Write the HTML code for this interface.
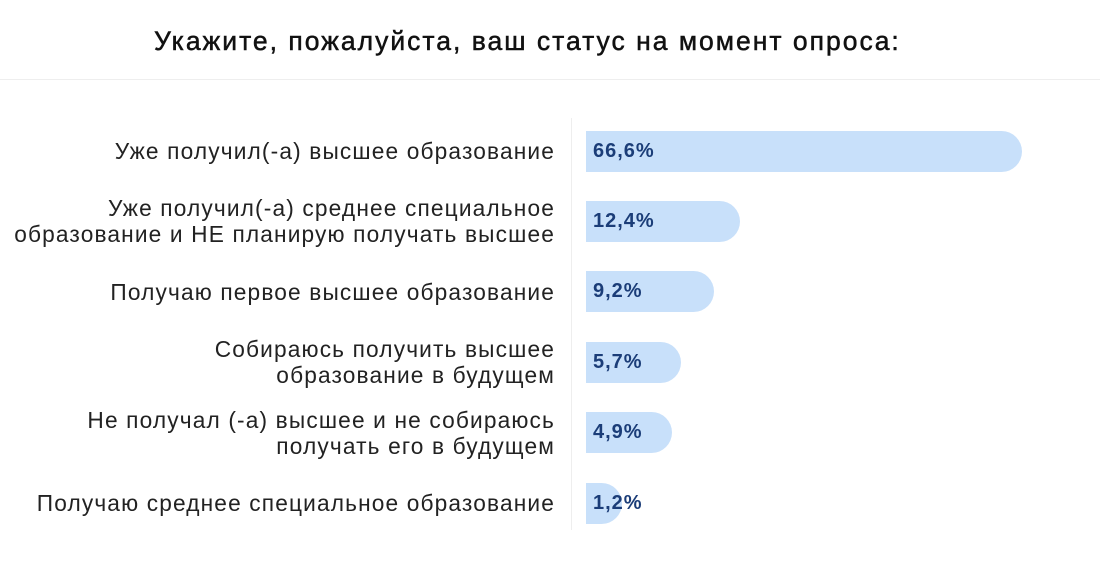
<!DOCTYPE html>
<html><head><meta charset="utf-8"><style>
body{margin:0;background:#fff;font-family:"Liberation Sans",sans-serif;}
#root{position:relative;width:1100px;height:563px;overflow:hidden;}
.cat{position:absolute;right:545px;text-align:right;font-size:22.7px;letter-spacing:1.15px;line-height:26px;color:#222;white-space:nowrap;}
.bar{position:absolute;left:586px;height:41px;background:#c8e0fa;border-radius:0 21px 21px 0;}
.val{position:absolute;left:593px;font-size:20px;letter-spacing:1px;font-weight:bold;color:#1b3d78;line-height:41px;}
</style></head><body>
<div id="root">
<div style="position:absolute;left:154px;top:26px;font-size:26.5px;letter-spacing:2px;color:#111;-webkit-text-stroke:0.5px #111;white-space:nowrap;">Укажите, пожалуйста, ваш статус на момент опроса:</div>
<div style="position:absolute;left:0;top:79px;width:1100px;height:1px;background:#eee;"></div>
<div style="position:absolute;left:571px;top:118px;width:1px;height:412px;background:#eee;"></div>
</div>
<script>
const categories=["Уже получил(-а) высшее образование","Уже получил(-а) среднее специальное<br>образование и НЕ планирую получать высшее","Получаю первое высшее образование","Собираюсь получить высшее<br>образование в будущем","Не получал (-а) высшее и не собираюсь<br>получать его в будущем","Получаю среднее специальное образование"];
const values=[66.6,12.4,9.2,5.7,4.9,1.2];
const valueLabels=["66,6%","12,4%","9,2%","5,7%","4,9%","1,2%"];
const root=document.getElementById('root');
const maxW=436;
function xScale(v){return maxW*Math.pow(v/Math.max(...values),0.62);}
function yCenter(i){return 151+i*70.4;}
values.forEach((v,i)=>{
  const yc=yCenter(i);
  const c=document.createElement('div');c.className='cat';c.innerHTML=categories[i];
  
  
  root.appendChild(c);
  c.style.top=(yc-c.offsetHeight/2)+'px';
  const b=document.createElement('div');b.className='bar';
  
  
  b.style.top=(yc-20.5)+'px';b.style.width=xScale(v)+'px';
  root.appendChild(b);
  const l=document.createElement('div');l.className='val';l.textContent=valueLabels[i];
  
  
  l.style.top=(yc-20.5)+'px';
  root.appendChild(l);
});
</script>
</body></html>
